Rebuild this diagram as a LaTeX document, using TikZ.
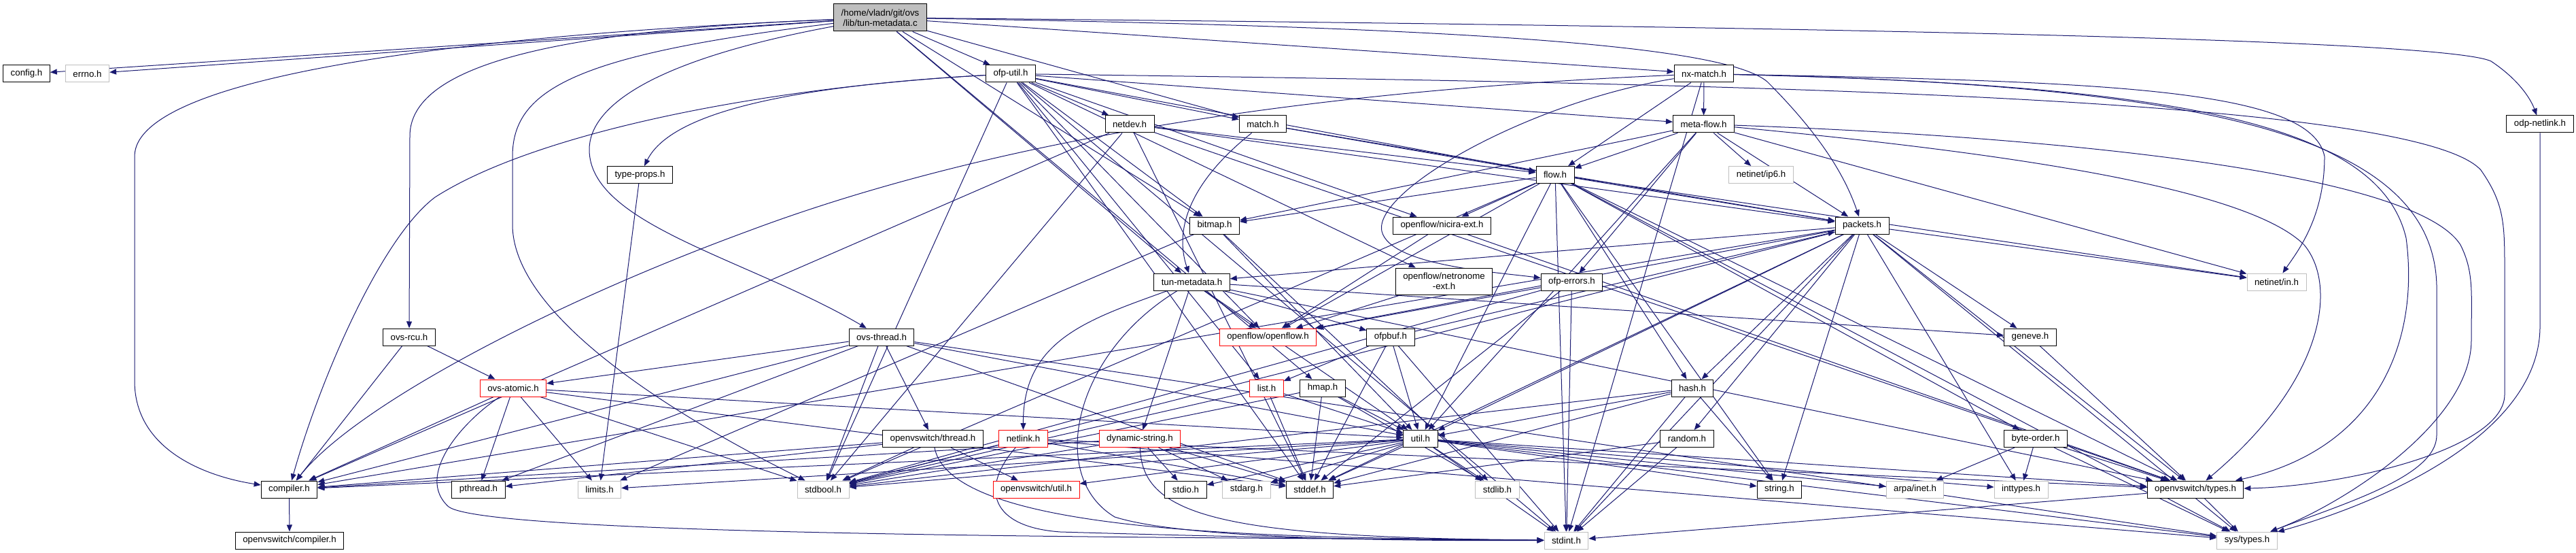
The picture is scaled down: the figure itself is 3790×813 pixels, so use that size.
\documentclass[tikz,border=0pt]{standalone}
\usepackage{fontspec}
\setmainfont{Liberation Sans}
\usetikzlibrary{arrows.meta, backgrounds}
\definecolor{edgeblue}{HTML}{191970}
\definecolor{sysgray}{HTML}{BFBFBF}

\begin{document}
\begin{tikzpicture}[x=1pt, y=-1pt, >={Triangle[length=10pt,width=8pt]}]
        % styles
        \tikzstyle{hdr} = [draw=black, line width=1pt, fill=white, rectangle, minimum height=25pt, inner xsep=11pt, inner ysep=0pt, align=center, font=\fontsize{13.3}{15}\selectfont]
        \tikzstyle{syshdr} = [hdr, draw=sysgray]
        \tikzstyle{parthdr} = [hdr, draw=red]
        \tikzstyle{dep} = [->, draw=edgeblue, line width=1pt]

        \useasboundingbox (0,0) rectangle (3790,813);

        % top file
        \node[hdr, fill=sysgray, minimum height=40pt] (tun) at (1295,26) {/home/vladn/git/ovs\\/lib/tun-metadata.c};

        % rank 1
        \node[hdr] (config) at (39,108.5) {config.h};
        \node[syshdr] (errno) at (128.5,108.5) {errno.h};
        \node[hdr] (ofputil) at (1487,108.5) {ofp-util.h};
        \node[hdr] (nxmatch) at (2507,108.5) {nx-match.h};

        % rank 2
        \node[hdr] (netdev) at (1662,182.5) {netdev.h};
        \node[hdr] (match) at (1858,182.5) {match.h};
        \node[hdr] (metaflow) at (2506.5,182.5) {meta-flow.h};
        \node[hdr] (odpnl) at (3737,182.5) {odp-netlink.h};

        % rank 3
        \node[hdr] (typeprops) at (941.5,257) {type-props.h};
        \node[hdr] (flow) at (2288,257) {flow.h};
        \node[syshdr] (ipsix) at (2591,257) {netinet/ip6.h};

        % rank 4
        \node[hdr] (bitmap) at (1787,331.5) {bitmap.h};
        \node[hdr] (nicira) at (2121.5,331.5) {openflow/nicira-ext.h};
        \node[hdr] (packets) at (2739.5,331.5) {packets.h};

        % rank 5
        \node[hdr] (tunmeta) at (1753.5,414.5) {tun-metadata.h};
        \node[hdr, minimum height=39pt] (netronome) at (2124.5,413.5) {openflow/netronome\\-ext.h};
        \node[hdr] (ofperr) at (2312.5,414.5) {ofp-errors.h};
        \node[syshdr] (netin) at (3349.5,414.5) {netinet/in.h};

        % rank 6
        \node[hdr] (ovsrcu) at (602,495.5) {ovs-rcu.h};
        \node[hdr] (ovsthread) at (1297,495.5) {ovs-thread.h};
        \node[parthdr] (openflow) at (1865.5,495.5) {openflow/openflow.h};
        \node[hdr] (ofpbuf) at (2046,495.5) {ofpbuf.h};
        \node[hdr] (geneve) at (2987,495.5) {geneve.h};

        % rank 7
        \node[parthdr] (ovsatomic) at (755,570.5) {ovs-atomic.h};
        \node[parthdr] (list) at (1863.5,570.5) {list.h};
        \node[hdr] (hmap) at (1946,570.5) {hmap.h};
        \node[hdr] (hash) at (2490,570.5) {hash.h};

        % rank 8
        \node[hdr] (ovsthr) at (1372.5,645) {openvswitch/thread.h};
        \node[parthdr] (netlink) at (1505.5,645) {netlink.h};
        \node[parthdr] (dynstr) at (1677,645) {dynamic-string.h};
        \node[hdr] (util) at (2090,645) {util.h};
        \node[hdr] (random) at (2482,645) {random.h};
        \node[hdr] (byteorder) at (2995,645) {byte-order.h};

        % rank 9
        \node[hdr] (compiler) at (425.5,719.5) {compiler.h};
        \node[hdr] (pthread) at (704,719.5) {pthread.h};
        \node[syshdr] (limits) at (882,719.5) {limits.h};
        \node[syshdr] (stdbool) at (1211,719.5) {stdbool.h};
        \node[parthdr] (ovsutil) at (1524.5,719.5) {openvswitch/util.h};
        \node[hdr] (stdio) at (1744.5,719.5) {stdio.h};
        \node[syshdr] (stdarg) at (1834,719.5) {stdarg.h};
        \node[hdr] (stddef) at (1927,719.5) {stddef.h};
        \node[syshdr] (stdlib) at (2203,719.5) {stdlib.h};
        \node[hdr] (string) at (2618,719.5) {string.h};
        \node[syshdr] (arpa) at (2817.5,719.5) {arpa/inet.h};
        \node[syshdr] (inttypes) at (2973.5,719.5) {inttypes.h};
        \node[hdr] (ovstypes) at (3230,719.5) {openvswitch/types.h};

        % rank 10
        \node[hdr] (ovscomp) at (426,794.5) {openvswitch/compiler.h};
        \node[syshdr] (stdint) at (2304.5,794.5) {stdint.h};
        \node[syshdr] (systypes) at (3306,794.5) {sys/types.h};

        % include edges
        \begin{pgfonlayer}{background}
        % long routed edges
        \draw[dep] (tun) .. controls (700,50) and (198,110) .. (198,230) -- (198,560) .. controls (198,660) and (300,700) .. (compiler);
        \draw[dep] (tun) .. controls (800,45) and (603,100) .. (603,200) -- (ovsrcu);
        \draw[dep] (tun) .. controls (850,80) and (754,130) .. (754,230) -- (754,330) .. controls (754,480) and (1050,640) .. (stdbool);
        \draw[dep] (tun) .. controls (950,90) and (867,160) .. (867,220) .. controls (867,330) and (1100,380) .. (ovsthread);
        \draw[dep] (tun) .. controls (2200,40) and (2540,70) .. (2600,120) .. controls (2680,200) and (2715,260) .. (packets);
        \draw[dep] (tun) .. controls (2800,40) and (3600,60) .. (3665,90) .. controls (3710,120) and (3725,150) .. (odpnl);
        \draw[dep] (ofputil) .. controls (1100,130) and (980,180) .. (typeprops);
        \draw[dep] (ofputil) .. controls (1100,130) and (780,200) .. (640,290) .. controls (560,350) and (470,560) .. (compiler);
        \draw[dep] (ofputil) .. controls (2500,122) and (3550,140) .. (3650,250) .. controls (3685,300) and (3685,330) .. (3685,400) -- (3685,580) .. controls (3685,660) and (3450,715) .. (ovstypes);
        \draw[dep] (nxmatch) .. controls (2000,130) and (1500,190) .. (1100,340) .. controls (800,450) and (520,600) .. (compiler);
        \draw[dep] (nxmatch) .. controls (2250,150) and (2020,280) .. (2033,340) .. controls (2045,390) and (2200,400) .. (ofperr);
        \draw[dep] (nxmatch) .. controls (3100,120) and (3400,130) .. (3420,230) .. controls (3420,320) and (3380,370) .. (netin);
        \draw[dep] (nxmatch) .. controls (3200,125) and (3500,180) .. (3540,350) .. controls (3560,500) and (3500,660) .. (ovstypes);
        \draw[dep] (nxmatch) .. controls (3250,125) and (3580,200) .. (3585,420) -- (3585,640) .. controls (3585,700) and (3450,740) .. (systypes);
        \draw[dep] (metaflow) .. controls (2900,220) and (3300,270) .. (3390,360) .. controls (3440,420) and (3420,560) .. (ovstypes);
        \draw[dep] (metaflow) .. controls (3000,200) and (3550,250) .. (3620,360) .. controls (3640,400) and (3636,430) .. (3636,500) .. controls (3636,620) and (3450,740) .. (systypes);
        \draw[dep] (odpnl) -- (3737,480) .. controls (3737,640) and (3500,740) .. (systypes);
        \draw[dep] (match) .. controls (1760,260) and (1725,330) .. (tunmeta);
        \draw[dep] (tunmeta) .. controls (1600,470) and (1505,500) .. (netlink);
        \draw[dep] (ovsatomic) .. controls (680,620) and (610,700) .. (660,745) .. controls (720,790) and (1800,790) .. (stdint);
        \draw[dep] (ovsthr) .. controls (1400,790) and (1900,790) .. (stdint);
        \draw[dep] (netlink) .. controls (1440,720) and (1460,775) .. (1560,782) .. controls (1900,792) and (2100,794) .. (stdint);
        \draw[dep] (dynstr) .. controls (1680,760) and (1800,790) .. (stdint);
        \draw[dep] (tunmeta) .. controls (1580,520) and (1540,700) .. (1640,760) .. controls (1750,795) and (2100,795) .. (stdint);

        % short edges
        \foreach \t in {config,errno,hmap,tunmeta,bitmap,ofputil,match,nxmatch}
            \draw[dep] (tun) -- (\t);
        \foreach \t in {stdbool,stddef,stdint,bitmap,flow,list,match,metaflow,netdev,nicira,netronome,openflow}
            \draw[dep] (ofputil) -- (\t);
        \foreach \t in {metaflow,flow,stdint}
            \draw[dep] (nxmatch) -- (\t);
        \foreach \t in {flow,ofperr,ipsix,packets,netin,bitmap,util}
            \draw[dep] (metaflow) -- (\t);
        \foreach \t in {nicira,bitmap,openflow,packets,hash,util,stdint,string,byteorder,netin,systypes,stdbool,ovstypes}
            \draw[dep] (flow) -- (\t);
        \foreach \t in {flow,packets}
            \draw[dep] (match) -- (\t);
        \foreach \t in {flow,packets,ovstypes,stdbool,stddef,compiler}
            \draw[dep] (netdev) -- (\t);
        \foreach \t in {limits,stdlib,util}
            \draw[dep] (bitmap) -- (\t);
        \draw[dep] (typeprops) -- (limits);
        \foreach \t in {openflow,dynstr,ofpbuf,ovstypes,geneve,util}
            \draw[dep] (tunmeta) -- (\t);
        \foreach \t in {tunmeta,compiler,geneve,ovstypes,hash,random,util,string,stdint,inttypes,systypes,netin,openflow,stddef,stdbool}
            \draw[dep] (packets) -- (\t);
        \foreach \t in {openflow,stdbool,stddef,stdint}
            \draw[dep] (ofperr) -- (\t);
        \draw[dep] (netronome) -- (openflow);
        \foreach \t in {openflow,ovstypes}
            \draw[dep] (nicira) -- (\t);
        \foreach \t in {compiler,ovsatomic}
            \draw[dep] (ovsrcu) -- (\t);
        \foreach \t in {ovsatomic,pthread,stddef,systypes,ovsthr,util,compiler,stdbool}
            \draw[dep] (ovsthread) -- (\t);
        \foreach \t in {pthread,limits,stdbool,stddef,compiler,util}
            \draw[dep] (ovsatomic) -- (\t);
        \foreach \t in {pthread,stdbool,compiler,ovsutil}
            \draw[dep] (ovsthr) -- (\t);
        \foreach \t in {stdbool,stddef,ovstypes,systypes}
            \draw[dep] (netlink) -- (\t);
        \foreach \t in {stdarg,stdbool,stddef,stdio,compiler}
            \draw[dep] (dynstr) -- (\t);
        \foreach \t in {list,stddef,stdint,util,packets}
            \draw[dep] (ofpbuf) -- (\t);
        \draw[dep] (geneve) -- (ovstypes);
        \foreach \t in {stdbool,stddef,util}
            \draw[dep] (list) -- (\t);
        \foreach \t in {stdbool,stdlib,stddef,util}
            \draw[dep] (hmap) -- (\t);
        \foreach \t in {stdbool,stddef,stdint,string,util}
            \draw[dep] (hash) -- (\t);
        \foreach \t in {stddef,stdint}
            \draw[dep] (random) -- (\t);
        \foreach \t in {ovsutil,compiler,limits,stdarg,stdbool,stddef,stdint,stdio,stdlib,string,arpa,inttypes,ovstypes,systypes}
            \draw[dep] (util) -- (\t);
        \foreach \t in {arpa,inttypes,systypes,ovstypes}
            \draw[dep] (byteorder) -- (\t);
        \foreach \t in {systypes,stdint}
            \draw[dep] (ovstypes) -- (\t);
        \draw[dep] (compiler) -- (ovscomp);
        \end{pgfonlayer}
\end{tikzpicture}
\end{document}
